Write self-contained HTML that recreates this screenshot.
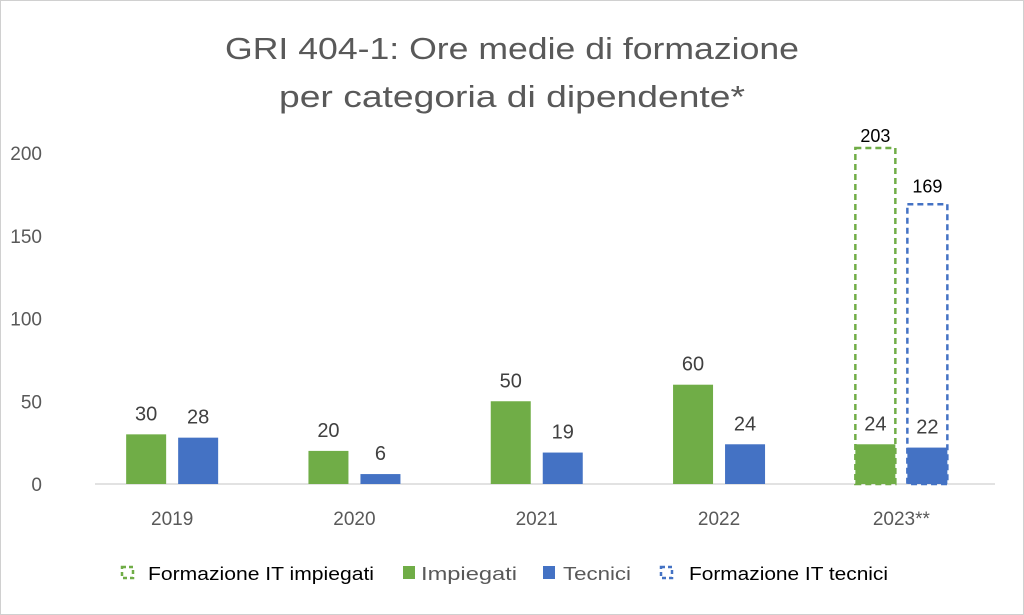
<!DOCTYPE html>
<html><head><meta charset="utf-8"><style>
html,body{margin:0;padding:0;background:#fff}
svg{display:block;font-family:"Liberation Sans",sans-serif}
</style></head><body>
<svg id="c" width="1024" height="615" viewBox="0 0 1024 615">
<rect x="0.5" y="0.5" width="1023" height="614" fill="#fff" stroke="#d0d0d0"/>
<text x="512" y="59" text-anchor="middle" font-size="31" fill="#595959" textLength="574" lengthAdjust="spacingAndGlyphs">GRI 404-1: Ore medie di formazione</text>
<text x="512" y="107" text-anchor="middle" font-size="31" fill="#595959" textLength="466" lengthAdjust="spacingAndGlyphs">per categoria di dipendente*</text>
<g id="plot"></g>
<g>
 <g>
  <rect x="122" y="567" width="11" height="11" fill="none" stroke="#70ad47" stroke-width="2.5" stroke-dasharray="4,3"/>
  <text x="148" y="580" font-size="18" fill="#000" textLength="226" lengthAdjust="spacingAndGlyphs">Formazione IT impiegati</text></g>
 <g>
  <rect x="403" y="566" width="12" height="13" fill="#70ad47"/>
  <text x="421" y="580" font-size="18" fill="#595959" textLength="96" lengthAdjust="spacingAndGlyphs">Impiegati</text></g>
 <g>
  <rect x="543" y="566" width="12" height="13" fill="#4472c4"/>
  <text x="563" y="580" font-size="18" fill="#595959" textLength="68" lengthAdjust="spacingAndGlyphs">Tecnici</text></g>
 <g>
  <rect x="661" y="567" width="11" height="11" fill="none" stroke="#4472c4" stroke-width="2.5" stroke-dasharray="4,3"/>
  <text x="689" y="580" font-size="18" fill="#000" textLength="199" lengthAdjust="spacingAndGlyphs">Formazione IT tecnici</text></g>
</g>
</svg>
<script>
const categories=["2019","2020","2021","2022","2023**"];
const impiegati=[30,20,50,60,24];
const tecnici=[28,6,19,24,22];
const itImpiegati=[null,null,null,null,203];
const itTecnici=[null,null,null,null,169];
const yTicks=[0,50,100,150,200];
const NS="http://www.w3.org/2000/svg";
const g=document.getElementById("plot");
const x0=81,step=182.3,base=484,k=331/200;
const y=v=>base-v*k;
const cx=i=>x0+step*(i+0.5);
function el(t,a,txt){const e=document.createElementNS(NS,t);for(const n in a)e.setAttribute(n,a[n]);if(txt!=null)e.textContent=txt;g.appendChild(e);return e;}
yTicks.forEach(t=>{const e=el("text",{x:42,y:y(t)+7,"text-anchor":"end","font-size":"19",fill:"#595959"},t);

});
const ax=el("line",{x1:95,x2:995,y1:base,y2:base,stroke:"#d9d9d9","stroke-width":"1.5"});


const bw=40,gap=12;
categories.forEach((c,i)=>{
 const lx=el("text",{x:cx(i),y:base+41,"text-anchor":"middle","font-size":"19",fill:"#595959"},c);
 
 
 const gx=cx(i)-gap/2-bw, bx=cx(i)+gap/2;
 const b1=el("rect",{x:gx,y:y(impiegati[i]),width:bw,height:impiegati[i]*k,fill:"#70ad47"});
 
 
 const b2=el("rect",{x:bx,y:y(tecnici[i]),width:bw,height:tecnici[i]*k,fill:"#4472c4"});
 
 
 const l1=el("text",{x:gx+bw/2,y:y(impiegati[i])-14,"text-anchor":"middle","font-size":"20",fill:"#404040"},impiegati[i]);
 
 
 const l2=el("text",{x:bx+bw/2,y:y(tecnici[i])-14,"text-anchor":"middle","font-size":"20",fill:"#404040"},tecnici[i]);
 
 
 if(itImpiegati[i]!=null){
  const d=el("rect",{x:gx,y:y(itImpiegati[i]),width:bw,height:itImpiegati[i]*k,fill:"none",stroke:"#70ad47","stroke-width":"2.5","stroke-dasharray":"6,4"});
  
  
  const t=el("text",{x:gx+bw/2,y:y(itImpiegati[i])-6,"text-anchor":"middle","font-size":"18",fill:"#000"},itImpiegati[i]);
  
  
 }
 if(itTecnici[i]!=null){
  const d=el("rect",{x:bx,y:y(itTecnici[i]),width:bw,height:itTecnici[i]*k,fill:"none",stroke:"#4472c4","stroke-width":"2.5","stroke-dasharray":"6,4"});
  
  
  const t=el("text",{x:bx+bw/2,y:y(itTecnici[i])-12,"text-anchor":"middle","font-size":"18",fill:"#000"},itTecnici[i]);
  
  
 }
});
</script>
</body></html>
